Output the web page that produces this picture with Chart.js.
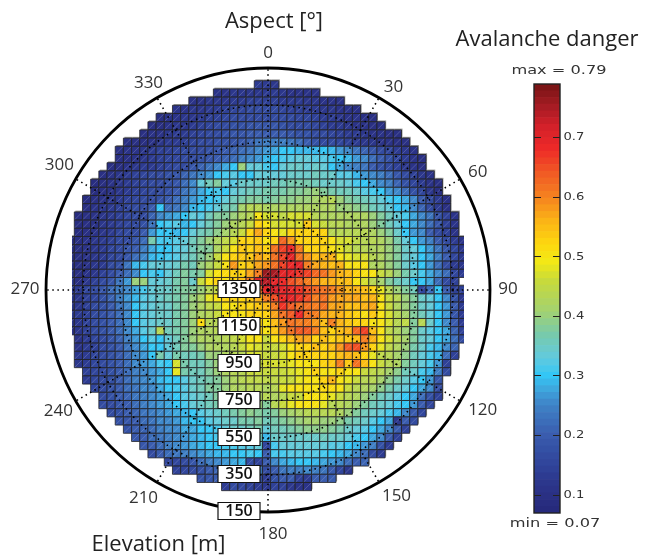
<!DOCTYPE html>
<html><head><meta charset="utf-8">
<script src="https://cdn.jsdelivr.net/npm/chart.js@4"></script>
<style>html,body{margin:0;padding:0;background:#fff}#w{position:relative;width:654px;height:555px;overflow:hidden}canvas{position:absolute;display:block}</style>
</head><body><div id="w"><canvas id="disc" width="654" height="555" style="left:0;top:0"></canvas><canvas id="bar" width="154" height="500" style="left:500px;top:50px"></canvas></div>
<script>
const aspectLabels=[180,210,240,270,300,330,0,30,60,90,120,150];
const aspectNudges=[[5,3],[-4,-1],[-1,1],[-2,-1],[0,-4],[1,2],[0,4],[5,6],[1,3],[-1,-1],[6,0],[8,-3]];
const elevationTicks=[1350,1150,950,750,550,350,150];
const colorbarTicks=[0.1,0.2,0.3,0.4,0.5,0.6,0.7];
const dangerMin=0.07, dangerMax=0.79;
const colorStops=[[.07,'#25297a'],[.10,'#2a3084'],[.13,'#2d3a90'],[.15,'#30449a'],[.18,'#3552a6'],[.20,'#3a5cae'],[.25,'#3f82c6'],[.28,'#3eaae0'],[.30,'#33c6f5'],[.33,'#62cade'],[.37,'#78caaa'],[.41,'#a5d26e'],[.46,'#c8da3a'],[.49,'#f2e916'],[.52,'#fdd80f'],[.56,'#fbb316'],[.60,'#f58220'],[.64,'#f15a24'],[.68,'#ee2a28'],[.72,'#d2202a'],[.75,'#a81c24'],[.79,'#751414']];
const rowStart=[23,18,15,13,11,10,9,7,6,6,5,4,3,3,2,2,1,1,1,0,0,0,0,0,0,0,0,0,0,0,0,1,1,1,1,2,2,3,4,4,5,6,7,8,9,10,12,13,16,19];
const dangerRows=[
[13,13,12],
[11,11,12,12,12,12,13,13,12,11,11,11,11],
[11,11,12,12,12,13,13,14,14,14,14,13,13,13,12,12,11,11,11],
[11,11,12,12,13,13,14,15,15,16,16,16,16,15,14,14,13,13,12,12,11,11,10],
[10,11,11,12,12,13,14,14,15,16,17,17,17,17,17,16,16,15,15,14,13,13,12,11,11,10,10],
[10,10,11,12,12,13,14,15,16,17,18,18,19,19,19,19,18,17,17,16,15,14,13,13,12,11,11,10,10],
[10,11,11,12,13,13,14,15,16,17,18,19,19,20,20,20,20,20,19,18,18,17,16,15,14,13,13,12,11,11,10,10],
[10,10,10,11,12,13,13,14,15,16,17,18,18,19,20,21,23,24,24,24,23,22,20,18,17,16,15,14,13,12,12,11,11,10,10],
[10,11,11,12,13,14,14,15,16,16,17,18,19,20,21,22,23,25,27,28,30,30,29,29,29,30,29,27,25,23,21,19,17,15,13,12,11],
[10,10,11,12,13,14,15,15,16,17,18,19,20,21,22,24,25,27,29,30,31,32,33,33,32,32,31,30,29,27,25,22,20,18,15,13,11,10],
[10,10,11,12,13,13,14,15,16,17,19,21,23,25,28,30,40,33,33,31,30,33,34,34,33,34,33,30,28,26,24,23,20,18,16,14,12,11,10],
[10,11,12,13,14,15,16,17,18,19,21,23,26,27,30,31,32,30,30,33,33,33,33,34,35,35,36,34,34,32,32,29,27,26,24,22,19,17,14,12,11],
[9,10,11,12,13,14,15,16,17,18,19,22,26,33,36,38,33,32,35,35,34,35,36,36,37,37,37,36,35,34,34,33,31,30,28,26,24,21,18,15,13,11,10],
[9,10,11,12,13,14,15,16,17,18,20,23,26,28,30,31,30,33,35,36,36,37,37,37,38,38,39,40,38,37,36,36,34,32,31,30,27,25,22,18,15,12,10],
[9,10,11,12,13,14,15,16,17,18,20,22,24,27,29,30,31,33,36,37,38,38,37,38,39,39,40,40,41,42,43,40,38,37,36,34,33,31,30,28,25,20,16,13,10],
[10,11,12,13,14,15,16,17,20,30,22,23,26,29,30,31,33,36,37,41,44,43,42,42,42,42,42,42,42,42,42,40,40,39,38,36,34,33,30,29,26,21,17,13,10],
[9,10,11,12,13,14,15,16,17,21,26,27,28,30,33,32,36,38,38,40,42,44,50,47,47,45,47,47,47,44,42,42,42,42,42,42,40,38,36,33,31,28,26,23,18,14,11],
[9,10,11,12,13,14,15,16,18,23,30,31,32,29,30,33,36,38,40,42,44,46,52,50,47,47,47,47,54,47,46,44,44,42,42,42,40,38,36,33,30,28,25,22,19,14,11],
[9,10,11,12,13,15,16,17,20,27,30,30,29,30,33,36,37,39,41,44,46,52,57,52,50,48,52,52,52,52,52,44,44,44,43,43,42,40,38,34,30,27,25,20,17,14,11],
[10,10,11,12,13,14,16,17,19,22,37,31,31,32,33,36,38,40,42,45,47,52,53,54,50,52,63,58,52,52,52,52,50,47,47,45,44,43,42,40,37,33,30,27,24,20,16,13,11],
[10,10,11,12,13,15,17,19,20,24,28,30,30,32,33,36,38,38,42,46,50,54,52,55,53,62,66,68,60,53,52,52,50,48,46,44,44,42,42,40,38,35,33,30,27,23,19,15,12],
[11,10,11,12,13,15,17,19,22,26,29,30,31,32,34,36,38,40,46,50,53,54,54,57,55,62,66,70,62,58,55,56,56,50,48,47,47,44,42,40,38,35,33,30,28,24,20,15,12],
[11,10,11,12,13,16,18,23,29,31,33,33,33,35,37,36,40,42,46,50,58,53,54,57,58,62,66,68,69,60,57,56,55,56,50,50,50,42,42,40,38,35,32,30,27,22,17,13,12],
[12,10,11,12,14,17,20,22,26,30,31,30,33,36,38,37,38,47,50,51,52,53,57,60,76,75,70,69,67,66,63,62,58,56,55,53,50,50,46,43,40,37,34,31,28,25,22,15,13],
[13,10,12,14,16,19,23,27,40,40,33,33,35,37,38,34,46,50,52,50,52,55,60,72,74,70,68,65,63,60,58,56,56,55,55,50,47,43,41,38,36,34,30,30,28,22,17,14],
[13,13,15,16,19,22,24,26,28,31,33,34,35,37,38,38,40,44,46,48,50,52,56,62,70,72,70,68,67,65,63,62,60,58,56,56,55,52,48,44,40,38,36,15,22,30,20,14,14],
[12,12,14,15,18,21,24,27,29,32,33,35,36,37,38,40,42,48,50,52,52,52,54,56,60,65,68,70,67,65,60,62,58,57,57,57,55,56,50,46,43,40,38,35,33,30,25,18,12],
[12,12,14,16,18,20,23,26,30,32,33,34,35,37,38,40,42,45,46,50,50,52,53,54,55,60,67,64,62,62,60,62,57,57,55,55,56,57,50,46,42,40,38,35,33,30,27,20,13],
[13,13,14,16,18,20,22,26,30,32,33,34,35,37,38,40,42,44,46,50,50,50,52,52,53,57,62,64,68,62,60,57,56,56,54,53,50,54,50,47,44,41,38,36,33,30,27,19,13],
[12,12,14,16,18,20,22,26,30,32,33,34,35,37,38,40,51,44,44,46,47,50,52,52,50,55,58,62,60,60,58,55,60,56,54,52,53,50,50,47,44,45,38,44,34,30,26,20,13],
[11,12,14,16,18,20,22,25,28,32,34,44,36,37,38,40,42,42,44,45,47,50,50,52,50,54,58,62,64,64,60,55,53,55,56,63,66,55,50,45,42,40,38,34,32,30,28,21,14],
[11,13,15,17,19,21,24,27,30,32,30,33,36,38,40,42,42,42,44,45,47,50,50,46,50,52,55,57,57,52,55,53,54,54,55,60,56,50,47,44,41,38,35,33,30,28,22,17],
[11,13,14,16,18,20,23,26,28,30,30,33,36,38,38,40,42,42,42,44,46,48,47,46,46,47,50,52,53,55,52,55,58,64,65,58,52,48,45,42,40,37,34,31,29,26,21],
[12,13,15,16,18,20,22,25,27,30,37,33,37,36,36,37,40,40,42,44,44,47,47,46,46,47,50,52,52,53,52,53,55,56,55,53,48,45,43,41,39,36,33,31,29,22,14],
[12,13,15,17,18,20,22,25,27,28,31,30,47,37,36,36,38,40,42,43,44,46,46,47,47,47,48,50,50,50,52,54,60,54,62,55,50,46,44,42,38,36,33,31,27,14],
[14,15,17,18,20,22,24,26,27,28,30,48,37,36,36,38,40,42,43,44,46,46,46,46,46,47,48,50,52,50,50,52,50,50,46,45,43,41,39,36,34,31,29,24,16],
[13,15,16,18,20,22,24,25,27,29,30,30,32,35,36,37,38,40,42,44,45,45,45,45,46,46,48,50,50,52,56,50,48,46,44,43,41,39,37,35,32,30,27,19],
[15,16,18,20,22,23,25,26,28,30,31,32,35,36,38,38,40,42,42,44,44,42,44,48,50,50,50,50,51,51,50,46,44,42,41,39,37,35,33,30,28,25,17],
[16,18,20,21,23,24,26,27,28,30,32,33,35,36,38,39,40,40,40,42,44,42,44,46,46,50,50,50,48,46,44,42,40,38,36,34,32,30,28,22,18,14],
[16,17,19,20,22,24,25,27,28,30,31,33,34,36,37,38,38,38,39,40,38,44,46,48,50,50,50,48,44,43,42,40,38,36,34,33,31,30,27,20,15],
[17,18,20,21,23,24,25,27,28,29,30,32,33,34,36,37,38,39,38,37,38,40,41,42,44,44,43,43,42,40,38,36,35,33,31,29,26,20,15],
[18,19,20,22,23,25,26,27,29,30,30,32,33,35,35,37,37,38,36,37,38,39,40,41,41,40,40,39,37,36,34,32,30,28,12,20,17],
[18,20,21,22,24,25,26,28,28,30,30,31,33,34,35,36,37,33,36,36,37,38,39,39,39,38,37,35,33,32,30,28,26,20,14],
[19,20,22,23,24,26,27,28,29,30,31,32,33,34,34,36,29,34,35,35,35,35,35,36,35,34,33,31,30,28,25,20,14],
[19,20,22,24,25,27,28,29,30,30,31,31,32,32,33,15,31,33,33,33,33,33,33,32,32,30,29,27,24,18,13],
[17,20,22,23,24,25,27,28,29,29,30,30,31,30,20,31,31,32,32,32,32,31,30,29,28,25,22,16,13],
[15,15,17,19,22,24,26,27,28,29,16,14,20,25,28,29,30,30,29,28,27,25,22,20,21],
[14,15,16,18,20,21,23,24,24,25,24,16,20,23,24,24,25,24,23,20,15,12],
[18,19,20,21,22,22,20,19,13,18,20,20,14,13,20,20,20],
[13,16,15,14,13,12,14,14,12,11,11]
];

// colour map: 64 flat levels between the stops, as on the colour bar
const levels=64, step=(dangerMax-dangerMin)/levels;
function hex(c){return [1,3,5].map(i=>parseInt(c.substr(i,2),16));}
function levelColor(l){
  const v=dangerMin+(l+.5)*step;
  let i=0; while(i<colorStops.length-2&&v>colorStops[i+1][0])i++;
  const [a,ca]=colorStops[i],[b,cb]=colorStops[i+1],t=Math.min(1,Math.max(0,(v-a)/(b-a)));
  const A=hex(ca),B=hex(cb);
  return 'rgb('+A.map((q,k)=>Math.round(q+(B[k]-q)*t)).join(',')+')';
}
const palette=Array.from({length:levels},(_,l)=>levelColor(l));
const colorOf=v=>palette[Math.min(levels-1,Math.max(0,Math.floor((v-dangerMin)/step)))];

const points=[],fills=[];
dangerRows.forEach((row,r)=>row.forEach((d,i)=>{points.push({x:rowStart[r]+i,y:r});fills.push(colorOf(d/100));}));
const pitchRadius=5.78, edgeClip={left:-26,top:0,right:-26,bottom:0};
const labelFont='"Open Sans"';

const discLabels={id:'discLabels',afterDraw(c){
  const g=c.ctx,s=c.scales.r;
  g.save();
  g.textAlign='center';g.textBaseline='middle';
  g.fillStyle='#333';g.font='17px '+labelFont;
  aspectLabels.forEach((a,i)=>{const p=s.getPointPosition(i,241);g.fillText(String(a),p.x+aspectNudges[i][0],p.y+aspectNudges[i][1]);});
  elevationTicks.forEach(v=>{
    const y=s.getPointPosition(0,s.getDistanceFromCenterForValue(v)).y-1,x=s.xCenter-29;
    g.fillStyle='#fff';g.strokeStyle='#111';g.lineWidth=1.2;
    g.beginPath();g.rect(x-21,y-8.5,42,17);g.fill();g.stroke();
    g.fillStyle='#111';g.font='600 16px '+labelFont;g.fillText(String(v),x,y+.5);
  });
  g.fillStyle='#222';g.font='22px '+labelFont;
  g.fillText('Aspect [°]',274,22);
  g.fillText('Avalanche danger',547,40);
  g.fillText('Elevation [m]',158.5,545);
  g.restore();
}};

new Chart(document.getElementById('disc'),{
  type:'scatter',
  data:{labels:aspectLabels,datasets:[
    {label:'edge',data:points.map(p=>({x:p.x+.13,y:p.y-.16})),order:3,pointStyle:'rect',pointRadius:pitchRadius,pointBorderWidth:0,pointBackgroundColor:'#9a9a9a',clip:edgeClip},
    {label:'Avalanche danger',data:points,order:2,pointStyle:'rect',pointRadius:pitchRadius,pointBorderWidth:.8,pointBorderColor:'#222226',pointBackgroundColor:fills,clip:edgeClip},
    {label:'hatch',data:points,order:1,pointStyle:'line',pointRotation:-45,pointRadius:5,pointBorderWidth:.6,pointBorderColor:'rgba(255,255,255,.3)',clip:edgeClip}
  ]},
  options:{responsive:false,animation:false,events:[],
    layout:{padding:{left:46,top:68,right:164,bottom:43}},
    plugins:{legend:{display:false},title:{display:false},tooltip:{enabled:false}},
    scales:{
      x:{type:'linear',display:false,min:-2.96,max:51.32},
      y:{type:'linear',display:false,reverse:true,min:-2.05,max:52.1},
      r:{type:'radialLinear',display:true,startAngle:180,reverse:true,min:150,max:1350,
        ticks:{display:false,reverse:true,stepSize:200,z:1},
        pointLabels:{display:false},
        angleLines:{display:true,color:'#000',lineWidth:1.6,borderDash:[1.5,3.6]},
        grid:{circular:true,z:1,color:'#000',lineWidth:c=>c.tick&&c.tick.value===150?2.8:1.6},
        border:{dash:c=>c.tick&&c.tick.value===150?[]:[1.5,4]}
      }
    }
  },
  plugins:[discLabels]
});

const barLabels={id:'barLabels',afterDraw(c){
  const g=c.ctx,a=c.chartArea,s=c.scales.y;
  g.save();
  g.strokeStyle='#222';g.lineWidth=1.4;g.strokeRect(a.left,a.top,a.right-a.left,a.bottom-a.top);
  const stretched=(t,x,y,sx,al)=>{g.save();g.translate(x,y);g.scale(sx,1);g.textAlign=al;g.textBaseline='middle';g.fillText(t,0,0);g.restore();};
  g.fillStyle='#333';g.font='10.5px "DejaVu Sans"';
  colorbarTicks.forEach(v=>stretched(String(v),a.right+3.5,s.getPixelForValue(v),1.25,'left'));
  g.font='12px "DejaVu Sans"';
  stretched('max = '+dangerMax,59,21,1.35,'center');
  stretched('min = '+dangerMin,55,474,1.35,'center');
  g.restore();
}};
new Chart(document.getElementById('bar'),{
  type:'bar',
  data:{labels:['danger'],datasets:palette.map((col,l)=>({label:'level',data:[l===0?dangerMin+step:step],backgroundColor:col,borderWidth:0,barPercentage:1,categoryPercentage:1,stack:'s'}))},
  options:{responsive:false,animation:false,events:[],
    layout:{padding:{left:34,top:34,right:54,bottom:37}},
    plugins:{legend:{display:false},title:{display:false},tooltip:{enabled:false}},
    scales:{
      x:{display:false,stacked:true},
      y:{stacked:true,position:'right',min:dangerMin,max:dangerMax,
        afterBuildTicks:s=>{s.ticks=colorbarTicks.map(v=>({value:v}));},
        afterFit:s=>{s.width=40;},
        ticks:{display:false},
        grid:{z:1,color:'#222',lineWidth:1,drawTicks:false},
        border:{display:false,dash:[7,12]}
      }
    }
  },
  plugins:[barLabels]
});
</script></body></html>
